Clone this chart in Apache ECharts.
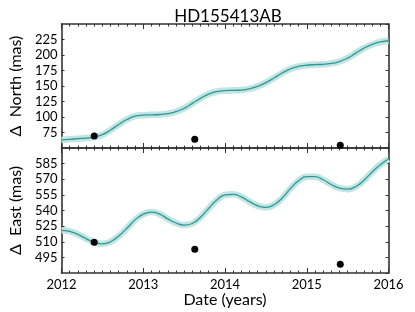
<!DOCTYPE html>
<html><head><meta charset="utf-8">
<script src="https://cdn.jsdelivr.net/npm/echarts@6/dist/echarts.min.js"></script>
<style>html,body{margin:0;padding:0;background:#fff}#c{width:415px;height:312px}</style>
</head><body><div id="c"></div>
<script>
const years = [2012.0,2012.1,2012.2,2012.3,2012.4,2012.5,2012.6,2012.7,2012.8,2012.9,
  2013.0,2013.1,2013.2,2013.3,2013.4,2013.5,2013.6,2013.7,2013.8,2013.9,
  2014.0,2014.1,2014.2,2014.3,2014.4,2014.5,2014.6,2014.7,2014.8,2014.9,
  2015.0,2015.1,2015.2,2015.3,2015.4,2015.5,2015.6,2015.7,2015.8,2015.9,2016.0];
const northFit = [63,64,65,66,67.5,71.5,79,88,96,101.5,
  103,103.5,104,105.5,108.5,114,122,130,137,141,
  142.5,143,143.5,145.5,149.5,155.5,163,171,177.5,181.5,
  183.5,184.5,185,186.5,189.5,195,203,211,217,221,223];
const eastFit = [521,520,517,513,509.5,508,510,515.5,523,531,
  536.5,538.5,536.5,532,528,526,527.5,533.5,542,550,
  555,555.5,553,548.5,544.5,543,545.5,552,561,568.5,
  572.5,572.5,569.5,565,561.5,560.5,563,569,577,584,589.5];
const obsYears = [2012.40, 2013.63, 2015.41];
const northObs = [69.5, 64.2, 54.5];
const eastObs = [509.5, 502.7, 488.3];
const northTicks = {min:50, max:250, interval:25};
const eastTicks = {min:480, max:600, interval:15};
const xTicks = {min:2012, max:2016, interval:1};

const FONT = 'Lato';
const LINE = '#2a9a96';
const BAND = '#c2e4e2';
const AX = '#333';

function pairs(xs, ys){ return xs.map((x,i)=>[x, ys[i]]); }

function xAxis(grid, pos, labels, name){
  return {
    type:'value', gridIndex:grid, position:pos, min:xTicks.min, max:xTicks.max, interval:xTicks.interval,
    axisLine:{show:true, onZero:false, lineStyle:{color:AX, width:1.6}},
    axisTick:{show:true, inside:true, length:5, lineStyle:{color:AX, width:1}},
    minorTick:{show:true, splitNumber:10, length:2.5, lineStyle:{color:AX, width:1}},
    splitLine:{show:false},
    axisLabel:{show:labels, color:'#000', fontFamily:FONT, fontSize:13, margin:5, formatter:v=>String(v)},
    name: name || '', nameLocation:'middle', nameGap:15,
    nameTextStyle:{color:'#000', fontFamily:FONT, fontSize:16}
  };
}
function yAxis(grid, pos, t, labels, name){
  return {
    type:'value', gridIndex:grid, position:pos, min:t.min, max:t.max, interval:t.interval,
    axisLine:{show:true, onZero:false, lineStyle:{color:AX, width:1.6}},
    axisTick:{show:true, inside:true, length:3, lineStyle:{color:AX, width:1}},
    splitLine:{show:false},
    axisLabel:{show:labels, showMinLabel:false, showMaxLabel:false, color:'#000', fontFamily:FONT, fontSize:13, margin:4},
    name: name || '', nameLocation:'middle', nameRotate:90, nameGap:30,
    nameTextStyle:{color:'#000', fontFamily:FONT, fontSize:16}
  };
}

function fitSeries(xi, yi, ys){
  return [
    {type:'line', xAxisIndex:xi, yAxisIndex:yi, data:pairs(years, ys), showSymbol:false, smooth:0.5,
     lineStyle:{color:BAND, width:6.5}, silent:true, z:1},
    {type:'line', xAxisIndex:xi, yAxisIndex:yi, data:pairs(years, ys), showSymbol:false, smooth:0.5,
     lineStyle:{color:LINE, width:1.3}, z:2}
  ];
}

const chart = echarts.init(document.getElementById('c'), null, {renderer:'canvas'});
chart.setOption({
  animation:false,
  title:{text:'HD155413AB', left:223, top:3, textAlign:'center',
    textStyle:{fontFamily:FONT, fontSize:17, fontWeight:'normal', color:'#000'}},
  grid:[
    {left:57.5, right:26.5, top:24, height:124},
    {left:57.5, right:26.5, top:148, height:125}
  ],
  xAxis:[
    xAxis(0,'bottom',false), xAxis(0,'top',false),
    xAxis(1,'bottom',true,'Date (years)'), xAxis(1,'top',false)
  ],
  yAxis:[
    yAxis(0,'left',northTicks,true,'Δ  North (mas)'), yAxis(0,'right',northTicks,false),
    yAxis(1,'left',eastTicks,true,'Δ  East (mas)'), yAxis(1,'right',eastTicks,false)
  ],
  series:[
    ...fitSeries(0,0,northFit),
    ...fitSeries(2,2,eastFit),
    {type:'scatter', xAxisIndex:0, yAxisIndex:0, data:pairs(obsYears,northObs), symbolSize:7, itemStyle:{color:'#000', opacity:1}, z:3},
    {type:'scatter', xAxisIndex:2, yAxisIndex:2, data:pairs(obsYears,eastObs), symbolSize:7, itemStyle:{color:'#000', opacity:1}, z:3}
  ]
});
</script></body></html>
